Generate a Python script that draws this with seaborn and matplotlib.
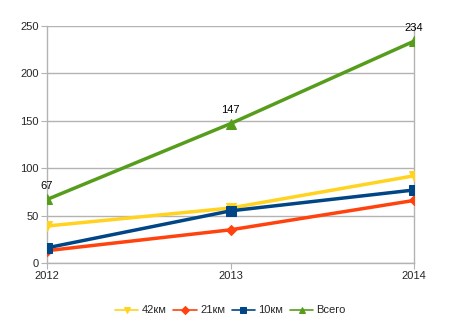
import matplotlib
matplotlib.use("Agg")
import matplotlib.pyplot as plt
import seaborn as sns
import pandas as pd

years = [2012, 2013, 2014]
km42 = [39, 58, 92]
km21 = [13, 35, 66]
km10 = [16, 55, 77]
total = [67, 147, 234]
series_names = ["42км", "21км", "10км", "Всего"]

sns.set_style("white")
plt.rcParams['font.family'] = ['Liberation Sans', 'DejaVu Sans']

df = pd.DataFrame({
    "year": years * 4,
    "value": km42 + km21 + km10 + total,
    "series": sum([[n] * len(years) for n in series_names], []),
})

colors = {"42км": "#FFD320", "21км": "#FF420E", "10км": "#004586", "Всего": "#579D1C"}
markers = {"42км": "v", "21км": "D", "10км": "s", "Всего": "^"}
msizes = {"42км": 7, "21км": 5, "10км": 7, "Всего": 7}

fig = plt.figure(figsize=(4.6, 3.24), dpi=100)
ax = fig.add_axes([47/460, 61/324, (414-47)/460, (263-26)/324])

for name in series_names:
    sub = df[df.series == name]
    sns.lineplot(data=sub, x="year", y="value", ax=ax, color=colors[name],
                 marker=markers[name], markersize=msizes[name], linewidth=2.5,
                 markeredgecolor=colors[name], label=name, zorder=3)

for x, v in zip(years, total):
    ax.annotate(str(v), (x, v), xytext=(0, 6), textcoords="offset points",
                ha="center", va="bottom", fontsize=8, color="#000000")

ax.set_xlim(2012, 2014)
ax.set_ylim(0, 250)
ax.set_xticks(years)
ax.set_xticklabels([str(y) for y in years])
ax.set_yticks([0, 50, 100, 150, 200, 250])
ax.set_xlabel("")
ax.set_ylabel("")
ax.grid(axis="y", color="#b3b3b3", linewidth=1)
ax.tick_params(axis="both", labelsize=8, length=4, color="#b3b3b3", direction="out",
               left=True, bottom=True, pad=2)
for s in ["top"]:
    ax.spines[s].set_visible(False)
for s in ["left", "right", "bottom"]:
    ax.spines[s].set_color("#b3b3b3")
    ax.spines[s].set_linewidth(1)

ax.legend(loc="center", bbox_to_anchor=(0.5, -0.2), ncol=4, frameon=False,
          fontsize=8, handlelength=2.1, columnspacing=0.6, handletextpad=0.3,
          borderaxespad=0)
leg = ax.get_legend()
for h in leg.legend_handles:
    h.set_linewidth(1.2)
    h.set_markersize(4.5)

fig.savefig("out.png", dpi=100)
